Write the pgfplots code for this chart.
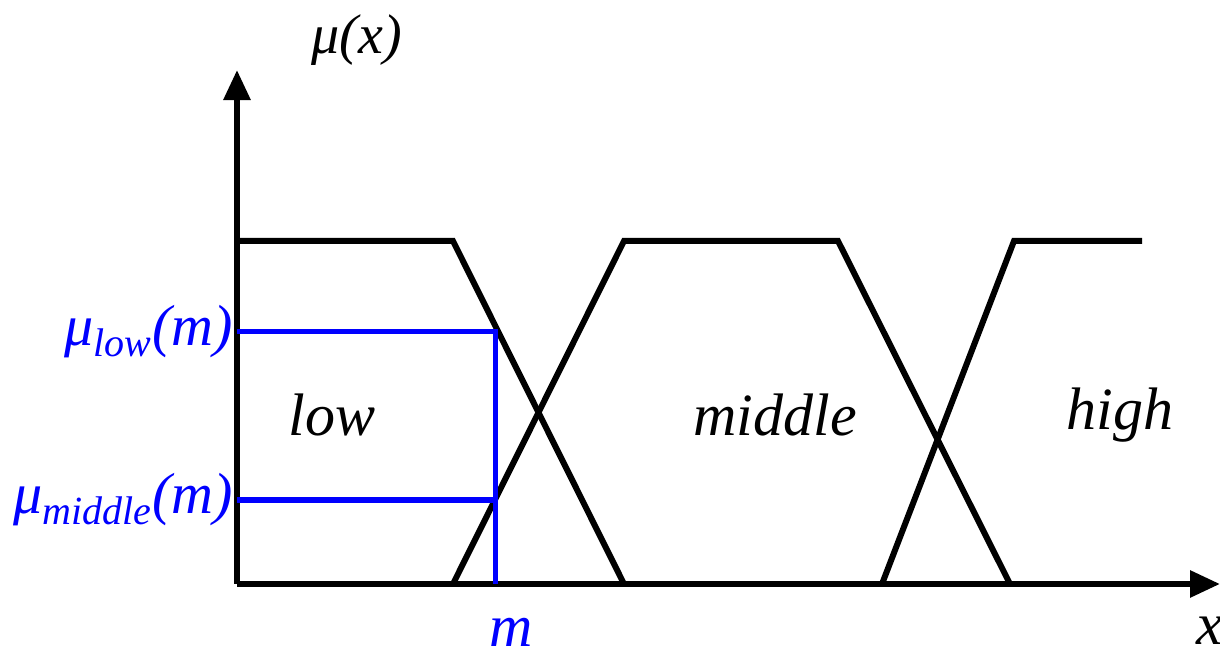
\documentclass[border=0pt]{standalone}
\usepackage{fontspec}
\setmainfont{Liberation Serif}
\newfontfamily\serifit{Liberation Serif Italic}
\usepackage{pgfplots}
\pgfplotsset{compat=1.18}
\usetikzlibrary{arrows.meta}

\definecolor{mblue}{RGB}{0,0,255}

% membership functions: low, middle, high
\pgfplotstableread{
x y
0 1
216 1
387 0
}\lowtab
\pgfplotstableread{
x y
216 0
387 1
601 1
773 0
}\midtab
\pgfplotstableread{
x y
645 0
777 1
905 1
}\hightab

\begin{document}
\begin{tikzpicture}
\begin{axis}[
  x=0.5pt, y=171.5pt,
  xmin=0, xmax=983, ymin=0, ymax=1.4985,
  axis lines=left,
  axis line style={line width=3pt, -{Triangle[length=15pt,width=13pt]}},
  ticks=none,
  clip=false,
]
\addplot[black, line width=3pt, line join=miter] table {\lowtab};
\addplot[black, line width=3pt, line join=miter] table {\midtab};
\addplot[black, line width=3pt, line join=miter] table {\hightab};

% degrees of membership at m
\addplot[mblue, line width=2.6pt, line join=miter] coordinates {(0,0.735) (258.75,0.735) (258.75,0)};
\addplot[mblue, line width=2.6pt] coordinates {(0,0.245) (258.75,0.245)};

\node[font=\fontsize{28}{30}\serifit] at (axis cs:120,1.586) {μ(x)};
\node[font=\fontsize{30}{32}\serifit] at (axis cs:95,0.493) {low};
\node[font=\fontsize{30}{32}\serifit] at (axis cs:538,0.493) {middle};
\node[font=\fontsize{30}{32}\serifit] at (axis cs:883,0.493) {high};
\node[font=\fontsize{29}{31}\serifit, text=mblue, anchor=east, inner sep=1pt] at (axis cs:-2,0.735) {μ\textsubscript{\fontsize{20}{22}\serifit low}(m)};
\node[font=\fontsize{29}{31}\serifit, text=mblue, anchor=east, inner sep=1pt] at (axis cs:-2,0.245) {μ\textsubscript{\fontsize{20}{22}\serifit middle}(m)};
\node[font=\fontsize{30}{32}\serifit, text=mblue] at (axis cs:274,-0.142) {m};
\node[font=\fontsize{30}{32}\serifit] at (axis cs:973,-0.135) {x};

\coordinate (bl) at (axis cs:-237,-0.2157);
\coordinate (tr) at (axis cs:983,1.7026);
\end{axis}
\pgfresetboundingbox
\useasboundingbox (bl) rectangle (tr);
\end{tikzpicture}
\end{document}
